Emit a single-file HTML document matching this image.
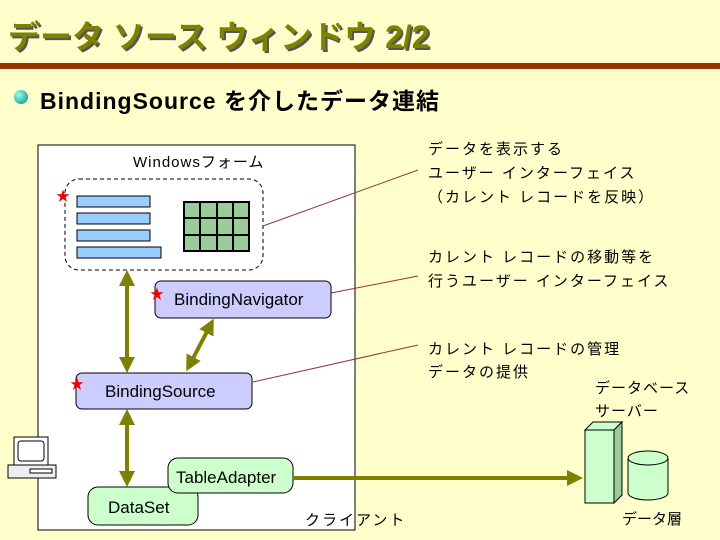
<!DOCTYPE html><html><head><meta charset="utf-8"><style>
body{margin:0;width:720px;height:540px;background:#ffffcc;position:relative;overflow:hidden;font-family:"Liberation Sans","Noto Sans CJK JP",sans-serif}
.a{position:absolute;white-space:nowrap}
.r{letter-spacing:2px}
</style></head><body>
<div class="a" style="left:8px;top:12px;font-size:32px;font-weight:bold;color:#808000;text-shadow:2px 2px 0 #555;letter-spacing:0px">データ ソース ウィンドウ 2/2</div>
<div class="a" style="left:0;top:63px;width:720px;height:6px;background:#993300"></div>
<div class="a" style="left:14px;top:90px;width:14px;height:14px;border-radius:50%;background:radial-gradient(circle at 35% 35%,#9fe,#087)"></div>
<div class="a" style="left:40px;top:82px;font-size:23px;font-weight:bold;color:#000;letter-spacing:1px">BindingSource を介したデータ連結</div>
<svg class="a" style="left:0;top:0" width="720" height="540">
<defs><marker id="m" markerWidth="4" markerHeight="4" refX="2.5" refY="2" orient="auto-start-reverse"><path d="M0,0L4,2L0,4z" fill="#808000"/></marker></defs>
<rect x="38" y="145" width="317" height="385" fill="#fff" stroke="#000"/>
<rect x="65" y="179" width="198" height="91" rx="14" fill="#fff" stroke="#000" stroke-dasharray="4,3"/>
<g fill="#99ccff" stroke="#000"><rect x="77" y="196" width="73" height="11"/><rect x="77" y="213" width="73" height="11"/><rect x="77" y="230" width="73" height="11"/><rect x="77" y="247" width="84" height="11"/></g>
<rect x="184" y="202" width="65" height="49" fill="#99cc99" stroke="#000" stroke-width="2"/>
<g stroke="#000" stroke-width="2"><line x1="200" y1="202" x2="200" y2="251"/><line x1="217" y1="202" x2="217" y2="251"/><line x1="233" y1="202" x2="233" y2="251"/><line x1="184" y1="218" x2="249" y2="218"/><line x1="184" y1="235" x2="249" y2="235"/></g>
<g stroke="#993333" stroke-width="1"><line x1="263" y1="226" x2="418" y2="170"/><line x1="331" y1="293" x2="418" y2="276"/><line x1="253" y1="382" x2="418" y2="345"/></g>
<rect x="155" y="281" width="176" height="37" rx="6" fill="#ccccff" stroke="#000"/>
<rect x="76" y="373" width="176" height="36" rx="6" fill="#ccccff" stroke="#000"/>
<rect x="88" y="487" width="110" height="38" rx="10" fill="#ccffcc" stroke="#000"/>
<rect x="168" y="458" width="125" height="35" rx="10" fill="#ccffcc" stroke="#000"/>
<g stroke="#808000" stroke-width="4" marker-start="url(#m)" marker-end="url(#m)"><line x1="127" y1="276" x2="127" y2="367"/><line x1="211" y1="324" x2="189" y2="366"/><line x1="127" y1="415" x2="127" y2="481"/></g>
<line x1="293" y1="478" x2="577" y2="478" stroke="#808000" stroke-width="4" marker-end="url(#m)"/>
<path d="M585,430L593,422L622,422L614,430z" fill="#ccffcc" stroke="#000"/><path d="M614,430L622,422L622,495L614,503z" fill="#99cc99" stroke="#000"/><rect x="585" y="430" width="29" height="73" fill="#ccffcc" stroke="#000"/>
<path d="M628,458V493A20,7 0 0 0 668,493V458" fill="#ccffcc" stroke="#000"/><ellipse cx="648" cy="458" rx="20" ry="7" fill="#ccffcc" stroke="#000"/>
<rect x="14" y="437" width="34" height="28" fill="#fff" stroke="#000"/><rect x="18" y="441" width="26" height="20" rx="3" fill="#fff" stroke="#000"/><rect x="8" y="465" width="48" height="13" fill="#eee" stroke="#000"/><rect x="30" y="469" width="22" height="4" fill="#fff" stroke="#000"/>
<g fill="#e00" font-size="14"><text x="56" y="201">★</text><text x="150" y="299">★</text><text x="70" y="389">★</text></g>
</svg>
<div class="a" style="left:133px;top:151px;font-size:15px;letter-spacing:1px">Windowsフォーム</div>
<div class="a" style="left:174px;top:290px;font-size:17px">BindingNavigator</div>
<div class="a" style="left:105px;top:382px;font-size:17px">BindingSource</div>
<div class="a" style="left:108px;top:498px;font-size:17px">DataSet</div>
<div class="a" style="left:176px;top:468px;font-size:17px">TableAdapter</div>
<div class="a r" style="left:305px;top:509px;font-size:15px">クライアント</div>
<div class="a r" style="left:428px;top:138px;font-size:15px;line-height:24px">データを表示する<br>ユーザー インターフェイス<br>（カレント レコードを反映）</div>
<div class="a r" style="left:428px;top:246px;font-size:15px;line-height:24px">カレント レコードの移動等を<br>行うユーザー インターフェイス</div>
<div class="a r" style="left:428px;top:338px;font-size:15px;line-height:23px">カレント レコードの管理<br>データの提供</div>
<div class="a" style="left:595px;top:377px;font-size:15px;line-height:23px;letter-spacing:1px">データベース<br>サーバー</div>
<div class="a" style="left:622px;top:508px;font-size:15px">データ層</div>
</body></html>
